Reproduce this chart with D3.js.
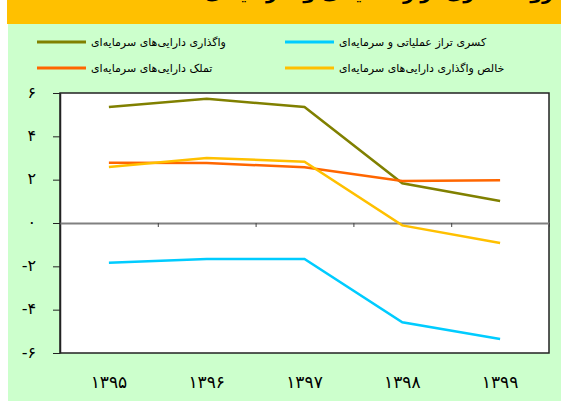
<!DOCTYPE html>
<html>
<head>
<meta charset="utf-8">
<script src="https://cdn.jsdelivr.net/npm/d3@7"></script>
<style>
  body { margin: 0; background: #fff; }
  svg { display: block; }
</style>
</head>
<body>
<script>
// datos del grafico
const years = ["۱۳۹۵", "۱۳۹۶", "۱۳۹۷", "۱۳۹۸", "۱۳۹۹"];
const vagozari = [5.35, 5.74, 5.35, 1.83, 1.02];      // olive
const kasri = [-1.83, -1.66, -1.66, -4.58, -5.35];     // cyan
const tamalok = [2.78, 2.77, 2.57, 1.94, 1.97];        // orange
const khales = [2.58, 3.0, 2.83, -0.11, -0.92];        // yellow
const yTicks = [-6, -4, -2, 0, 2, 4, 6];
const yTickLabels = ["-۶", "-۴", "-۲", "۰", "۲", "۴", "۶"];

const series = [
  { name: "واگذاری دارایی‌های سرمایه‌ای", values: vagozari, color: "#808000" },
  { name: "کسری تراز عملیاتی و سرمایه‌ای", values: kasri, color: "#00CCFF" },
  { name: "تملک دارایی‌های سرمایه‌ای", values: tamalok, color: "#FF6600" },
  { name: "خالص واگذاری دارایی‌های سرمایه‌ای", values: khales, color: "#FFC000" }
];

const width = 561, height = 401;
const font = "DejaVu Sans, sans-serif";

const svg = d3.select("body").append("svg")
  .attr("width", width).attr("height", height);

// fondos
svg.append("rect").attr("x", 8).attr("y", 24).attr("width", width - 8).attr("height", height - 24)
  .attr("fill", "#CCFFCC");
svg.append("rect").attr("x", 7).attr("y", 0).attr("width", width - 7).attr("height", 24)
  .attr("fill", "#FFC000");

// titulo (cortado arriba, como en el original)
svg.append("text")
  .attr("x", 553).attr("y", -1)
  .attr("direction", "rtl").attr("text-anchor", "start")
  .attr("font-family", font).attr("font-weight", "bold").attr("font-size", 19)
  .attr("fill", "#000")
  .text("روند کسری تراز عملیاتی و سرمایه‌ای");

// leyenda
const legendPos = [[37, 42], [285, 42], [37, 68], [285, 68]];
series.forEach((s, i) => {
  const [lx, ly] = legendPos[i];
  svg.append("line")
    .attr("x1", lx).attr("x2", lx + 49).attr("y1", ly).attr("y2", ly)
    .attr("stroke", s.color).attr("stroke-width", 3);
  svg.append("text")
    .attr("x", lx + 54).attr("y", ly + 4)
    .attr("direction", "rtl").attr("text-anchor", "end")
    .attr("font-family", font).attr("font-size", 11)
    .attr("fill", "#000")
    .text(s.name);
});

// area del grafico
const pLeft = 60, pRight = 549, pTop = 93, pBottom = 353;

svg.append("rect")
  .attr("x", pLeft).attr("y", pTop).attr("width", pRight - pLeft).attr("height", pBottom - pTop)
  .attr("fill", "#fff").attr("stroke", "#222").attr("stroke-width", 1.5);

const x = d3.scaleBand().domain(years).range([pLeft, pRight]);
const xb = d3.scaleLinear().domain([0, years.length]).range([pLeft, pRight]);
const y = d3.scaleLinear().domain([-6, 6]).range([pBottom, pTop]);

// eje y
svg.append("g")
  .attr("transform", `translate(${pLeft},0)`)
  .call(d3.axisLeft(y).tickValues(yTicks).tickSize(7).tickSizeOuter(0)
    .tickFormat((d, i) => yTickLabels[i]))
  .call(g => g.select(".domain").attr("stroke", "#222").attr("stroke-width", 1.5))
  .call(g => g.selectAll(".tick line").attr("stroke", "#222"))
  .call(g => g.selectAll(".tick text")
    .attr("x", -24).attr("dy", "0.25em")
    .attr("font-family", font).attr("font-size", 16).attr("fill", "#000"));

// linea cero con marcas
svg.append("g")
  .attr("transform", `translate(0,${y(0)})`)
  .call(d3.axisBottom(xb).tickValues(d3.range(1, years.length + 1)).tickSize(4)
    .tickSizeOuter(0).tickFormat(""))
  .call(g => g.select(".domain").attr("stroke", "#808080").attr("stroke-width", 2))
  .call(g => g.selectAll(".tick line").attr("stroke", "#444"));

// etiquetas x
svg.append("g")
  .selectAll("text")
  .data(years)
  .join("text")
  .attr("x", d => x(d) + x.bandwidth() / 2)
  .attr("y", 388)
  .attr("text-anchor", "middle")
  .attr("font-family", font).attr("font-size", 17)
  .attr("fill", "#000")
  .text(d => d);

// lineas
const line = d3.line()
  .x((d, i) => x(years[i]) + x.bandwidth() / 2)
  .y(d => y(d));

svg.append("g")
  .selectAll("path")
  .data([series[0], series[2], series[3], series[1]])
  .join("path")
  .attr("d", d => line(d.values))
  .attr("fill", "none")
  .attr("stroke", d => d.color)
  .attr("stroke-width", 2.5);
</script>
</body>
</html>
